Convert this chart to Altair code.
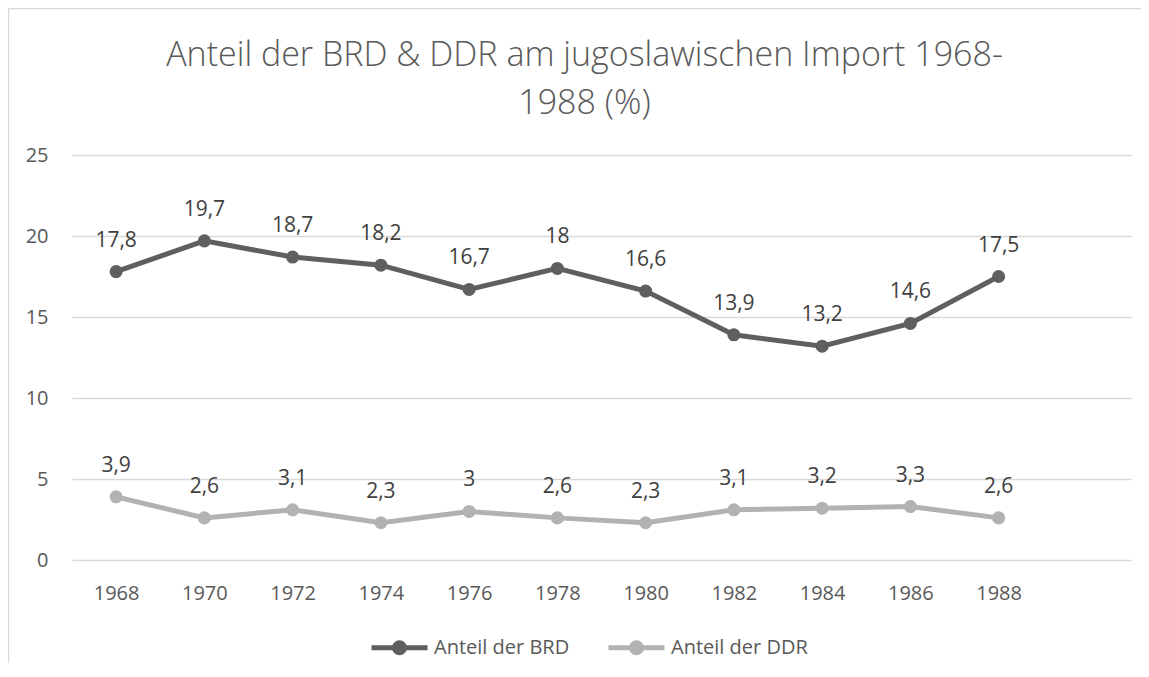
import altair as alt
import pandas as pd

years = [1968, 1970, 1972, 1974, 1976, 1978, 1980, 1982, 1984, 1986, 1988]
brd = [17.8, 19.7, 18.7, 18.2, 16.7, 18, 16.6, 13.9, 13.2, 14.6, 17.5]
ddr = [3.9, 2.6, 3.1, 2.3, 3, 2.6, 2.3, 3.1, 3.2, 3.3, 2.6]
series_names = ["Anteil der BRD", "Anteil der DDR"]
colors = ["#5F5F5F", "#B2B2B2"]
y_ticks = [0, 5, 10, 15, 20, 25]
title_lines = ["Anteil der BRD & DDR am jugoslawischen Import 1968-", "1988 (%)"]

rows = []
for name, vals in zip(series_names, [brd, ddr]):
    for yr, v in zip(years, vals):
        rows.append({"Jahr": yr, "Wert": v, "Reihe": name})
df = pd.DataFrame(rows)

FONT = "Open Sans"
TXT = "#595959"

legend_path = (
    "M-1,0L1,0"
    "M0.089,0A0.089,0.089,0,1,1,-0.089,0A0.089,0.089,0,1,1,0.089,0"
    "M0.179,0A0.179,0.179,0,1,1,-0.179,0A0.179,0.179,0,1,1,0.179,0"
)

x_enc = alt.X(
    "Jahr:Q",
    scale=alt.Scale(domain=[1967, 1991], nice=False, zero=False),
    axis=alt.Axis(values=years, format="d", grid=False, domain=False, ticks=False,
                  labelFontSize=20, labelColor=TXT, labelFont=FONT, labelPadding=23,
                  title=None),
)
y_enc = alt.Y(
    "Wert:Q",
    scale=alt.Scale(domain=[0, 25], nice=False),
    axis=alt.Axis(values=y_ticks, grid=True, gridColor="#D9D9D9", gridWidth=1.3,
                  domain=False, ticks=False, labelFontSize=20, labelColor=TXT,
                  labelFont=FONT, labelPadding=24, title=None),
)
color_enc = alt.Color(
    "Reihe:N",
    scale=alt.Scale(domain=series_names, range=colors),
    legend=alt.Legend(orient="none", legendX=297, legendY=462, direction="horizontal",
                      title=None, symbolType=legend_path, symbolSize=3136,
                      symbolStrokeWidth=5, labelFontSize=20, labelColor=TXT,
                      labelFont=FONT, labelOffset=4, columnPadding=28),
)

one = alt.Data(values=[{}])
frame_left = alt.Chart(one).mark_rule(color="#D9D9D9", strokeWidth=1.3).encode(
    x=alt.value(-63.5), y=alt.value(-146.5), y2=alt.value(700)
)
frame_top = alt.Chart(one).mark_rule(color="#D9D9D9", strokeWidth=1.3).encode(
    x=alt.value(-63.5), x2=alt.value(1200), y=alt.value(-146.5)
)

lines = alt.Chart(df).mark_line(
    strokeWidth=5, point=alt.OverlayMarkDef(filled=True, size=170, opacity=1)
).encode(x=x_enc, y=y_enc, color=color_enc)

labels = alt.Chart(df).transform_calculate(
    label="replace(toString(datum.Wert), '.', ',')"
).mark_text(
    dy=-25, baseline="alphabetic", fontSize=21, color="#404040", font=FONT
).encode(x=x_enc, y=y_enc, text="label:N")

chart = alt.layer(frame_left, frame_top, lines, labels).properties(
    width=1059,
    height=405,
    autosize="none",
    padding={"left": 64, "top": 147, "right": 10, "bottom": 103},
    title=alt.TitleParams(title_lines, fontSize=34, fontWeight=300, color=TXT,
                          font=FONT, anchor="middle", frame="group", dx=-17,
                          dy=147, lineHeight=48, offset=34),
).configure_view(stroke=None)

chart.save("out.html", embed_options={"renderer": "svg", "actions": False})
